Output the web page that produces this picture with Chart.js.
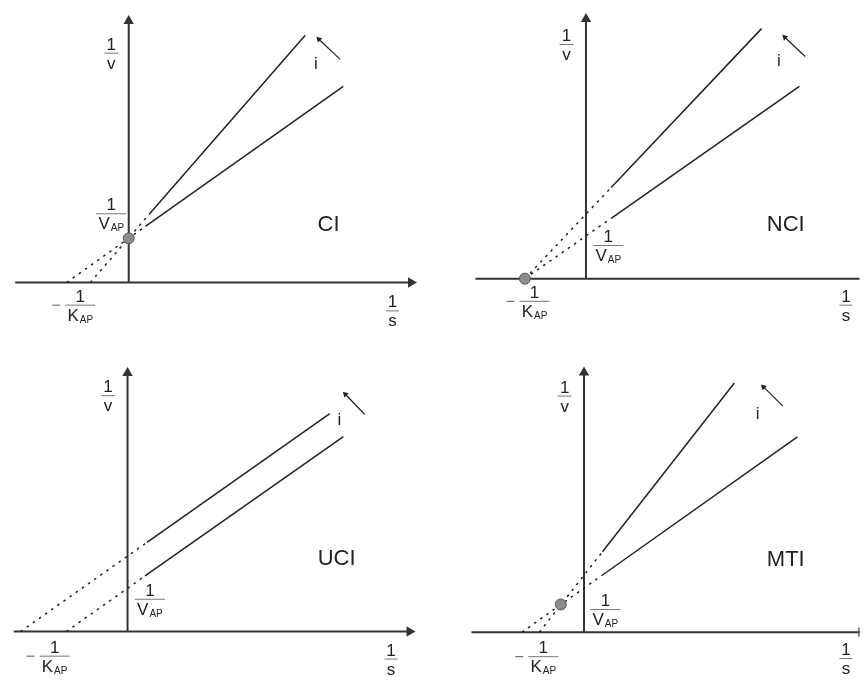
<!DOCTYPE html>
<html>
<head>
<meta charset="utf-8">
<script src="https://cdn.jsdelivr.net/npm/chart.js@4.4.1/dist/chart.umd.min.js"></script>
<style>
  body { margin: 0; background: #fff; }
  #wrap { position: relative; width: 866px; height: 680px; }
  .panel { position: absolute; width: 433px; height: 340px; }
</style>
</head>
<body>
<div id="wrap">
  <div class="panel" style="left:0;top:0"><canvas id="ci" width="433" height="340"></canvas></div>
  <div class="panel" style="left:433px;top:0"><canvas id="nci" width="433" height="340"></canvas></div>
  <div class="panel" style="left:0;top:340px"><canvas id="uci" width="433" height="340"></canvas></div>
  <div class="panel" style="left:433px;top:340px"><canvas id="mti" width="433" height="340"></canvas></div>
</div>
<script>
// --- data (x = 1/s, y = 1/v, arbitrary units) ---
// each line: x-intercept, start of the solid part, end of the solid part
const ciSteep   = [{x: -0.99, y: 0}, {x: 0.55, y: 1.8},  {x: 4.55, y: 6.43}];
const ciShallow = [{x: -1.6,  y: 0}, {x: 0.43, y: 1.46}, {x: 5.53, y: 5.1}];
const ciMeet    = [{x: 0, y: 1.15}];

const nciSteep   = [{x: -1.575, y: 0}, {x: 0.65, y: 2.37}, {x: 4.525, y: 6.5}];
const nciShallow = [{x: -1.575, y: 0}, {x: 0.65, y: 1.57}, {x: 5.5,   y: 5.0}];
const nciMeet    = [{x: -1.575, y: 0}];

const uciUpper = [{x: -2.75,  y: 0}, {x: 0.5,  y: 2.31}, {x: 5.2,  y: 5.65}];
const uciLower = [{x: -1.575, y: 0}, {x: 0.45, y: 1.44}, {x: 5.55, y: 5.05}];
const uciMeet  = [];

const mtiSteep   = [{x: -1.15, y: 0}, {x: 0.475, y: 2.09},  {x: 3.875, y: 6.475}];
const mtiShallow = [{x: -1.6,  y: 0}, {x: 0.45,  y: 1.466}, {x: 5.5,   y: 5.075}];
const mtiMeet    = [{x: -0.6, y: 0.72}];

// axis extents: [x left, x right, y top]
const ciAxes  = [-2.925, 7.275, 6.8];
const nciAxes = [-2.85, 7.15, 6.75];
const uciAxes = [-2.925, 7.25, 6.7];
const mtiAxes = [-2.9, 7.15, 6.75];

// "i" arrows: tail, head
const ciArrow  = [{x: 5.45, y: 5.8},   {x: 4.9,   y: 6.325}];
const nciArrow = [{x: 5.65, y: 5.775}, {x: 5.125, y: 6.275}];
const uciArrow = [{x: 6.1,  y: 5.625}, {x: 5.6,   y: 6.15}];
const mtiArrow = [{x: 5.125, y: 5.875}, {x: 4.625, y: 6.375}];

const titles = ["CI", "NCI", "UCI", "MTI"];

// --- layout ---
const UNIT = 40;           // px per unit, same on both axes
const W = 433, H = 340;
const INK = "#222";
const F17 = '17px "Liberation Sans", Arial, sans-serif';
const F10 = '10px "Liberation Sans", Arial, sans-serif';
const F22 = '22px "Liberation Sans", Arial, sans-serif';

const panels = [
  { id: "ci", title: titles[0], origin: [126, 287], axes: ciAxes,
    lines: [ciSteep, ciShallow], meet: ciMeet, arrow: ciArrow,
    at: { v: [-0.45, 5.975], vap: [-0.45, 1.8], kap: [-1.25, -0.575], s: [6.8, -0.725],
          i: [4.825, 5.55], title: [5.15, 1.35] } },
  { id: "nci", title: titles[1], origin: [151, 283], axes: nciAxes,
    lines: [nciSteep, nciShallow], meet: nciMeet, arrow: nciArrow,
    at: { v: [-0.5, 6.1], vap: [0.575, 0.875], kap: [-1.325, -0.575], s: [6.7, -0.675],
          i: [4.975, 5.525], title: [5.15, 1.25] } },
  { id: "uci", title: titles[2], origin: [125, 296], axes: uciAxes,
    lines: [uciUpper, uciLower], meet: uciMeet, arrow: uciArrow,
    at: { v: [-0.5, 6.125], vap: [0.575, 0.85], kap: [-1.875, -0.625], s: [6.775, -0.7],
          i: [5.45, 5.35], title: [5.375, 1.725] } },
  { id: "mti", title: titles[3], origin: [149, 297], axes: mtiAxes,
    lines: [mtiSteep, mtiShallow], meet: mtiMeet, arrow: mtiArrow,
    at: { v: [-0.5, 6.15], vap: [0.55, 0.6], kap: [-1.05, -0.625], s: [6.75, -0.675],
          i: [4.475, 5.55], title: [5.2, 1.725] } }
];

function drawFrac(ctx, cx, by, den, sub, barW, minus) {
  ctx.fillStyle = INK;
  ctx.textBaseline = "alphabetic";
  ctx.textAlign = "center";
  ctx.font = F17;
  ctx.fillText("1", cx, by - 3);

  ctx.strokeStyle = "#777";
  ctx.lineWidth = 1;
  ctx.beginPath();
  ctx.moveTo(cx - barW / 2, by + 0.5);
  ctx.lineTo(cx + barW / 2, by + 0.5);
  ctx.stroke();

  ctx.font = F17;
  const dw = ctx.measureText(den).width;
  ctx.font = F10;
  const sw = sub ? ctx.measureText(sub).width + 1 : 0;
  const left = cx - (dw + sw) / 2;
  ctx.textAlign = "left";
  ctx.font = F17;
  ctx.fillText(den, left, by + 16);
  if (sub) {
    ctx.font = F10;
    ctx.fillText(sub, left + dw + 1, by + 18);
  }
  if (minus) {
    ctx.strokeStyle = "#555";
    ctx.beginPath();
    ctx.moveTo(cx - barW / 2 - 13, by + 0.5);
    ctx.lineTo(cx - barW / 2 - 5, by + 0.5);
    ctx.stroke();
  }
}

function textPlugin(p) {
  return {
    id: "panelText",
    afterDatasetsDraw(chart) {
      const ctx = chart.ctx;
      const sx = chart.scales.x, sy = chart.scales.y;
      const px = a => [sx.getPixelForValue(a[0]), sy.getPixelForValue(a[1])];
      ctx.save();
      let q = px(p.at.v);   drawFrac(ctx, q[0], q[1], "v", "", 14, false);
      q = px(p.at.vap);     drawFrac(ctx, q[0], q[1], "V", "AP", 30, false);
      q = px(p.at.kap);     drawFrac(ctx, q[0], q[1], "K", "AP", 30, true);
      q = px(p.at.s);       drawFrac(ctx, q[0], q[1], "s", "", 13, false);
      ctx.fillStyle = INK;
      ctx.textAlign = "center";
      ctx.font = F17;
      q = px(p.at.i);       ctx.fillText("i", q[0], q[1]);
      ctx.font = F22;
      q = px(p.at.title);   ctx.fillText(p.title, q[0], q[1]);
      ctx.restore();
    }
  };
}

const dashFirst = { borderDash: c => c.p0DataIndex === 0 ? [2.5, 5] : undefined };

panels.forEach(p => {
  const [ox, oy] = p.origin;
  const [xl, xr, yt] = p.axes;
  const datasets = [];

  datasets.push({
    data: p.meet, showLine: false, pointStyle: "circle", pointRadius: 5.5,
    pointBackgroundColor: "#8c8c8c", pointBorderColor: "#555", pointBorderWidth: 1
  });
  p.lines.forEach(line => datasets.push({
    data: line, showLine: true, borderColor: INK, borderWidth: 1.5,
    pointRadius: 0, segment: dashFirst
  }));
  datasets.push({
    data: p.arrow, showLine: true, borderColor: INK, borderWidth: 1.2,
    pointStyle: "triangle", pointRadius: [0, 3.5], rotation: [0, -45],
    pointBackgroundColor: INK, pointBorderColor: INK, pointBorderWidth: 0
  });
  // axes with arrowheads
  datasets.push({
    data: [{x: xl, y: 0}, {x: xr, y: 0}], showLine: true, borderColor: "#333", borderWidth: 2,
    pointStyle: "triangle", pointRadius: [0, 6], rotation: [0, 90],
    pointBackgroundColor: "#333", pointBorderColor: "#333", pointBorderWidth: 0
  });
  datasets.push({
    data: [{x: 0, y: 0}, {x: 0, y: yt}], showLine: true, borderColor: "#333", borderWidth: 2,
    pointStyle: "triangle", pointRadius: [0, 6], rotation: [0, 0],
    pointBackgroundColor: "#333", pointBorderColor: "#333", pointBorderWidth: 0
  });

  new Chart(document.getElementById(p.id), {
    type: "scatter",
    data: { datasets },
    options: {
      responsive: false,
      animation: false,
      events: [],
      devicePixelRatio: 1,
      layout: { padding: 0 },
      plugins: { legend: { display: false }, tooltip: { enabled: false } },
      scales: {
        x: { type: "linear", display: false, min: -ox / UNIT, max: (W - ox) / UNIT },
        y: { type: "linear", display: false, min: -(H - oy) / UNIT, max: oy / UNIT }
      }
    },
    plugins: [textPlugin(p)]
  });
});
</script>
</body>
</html>
